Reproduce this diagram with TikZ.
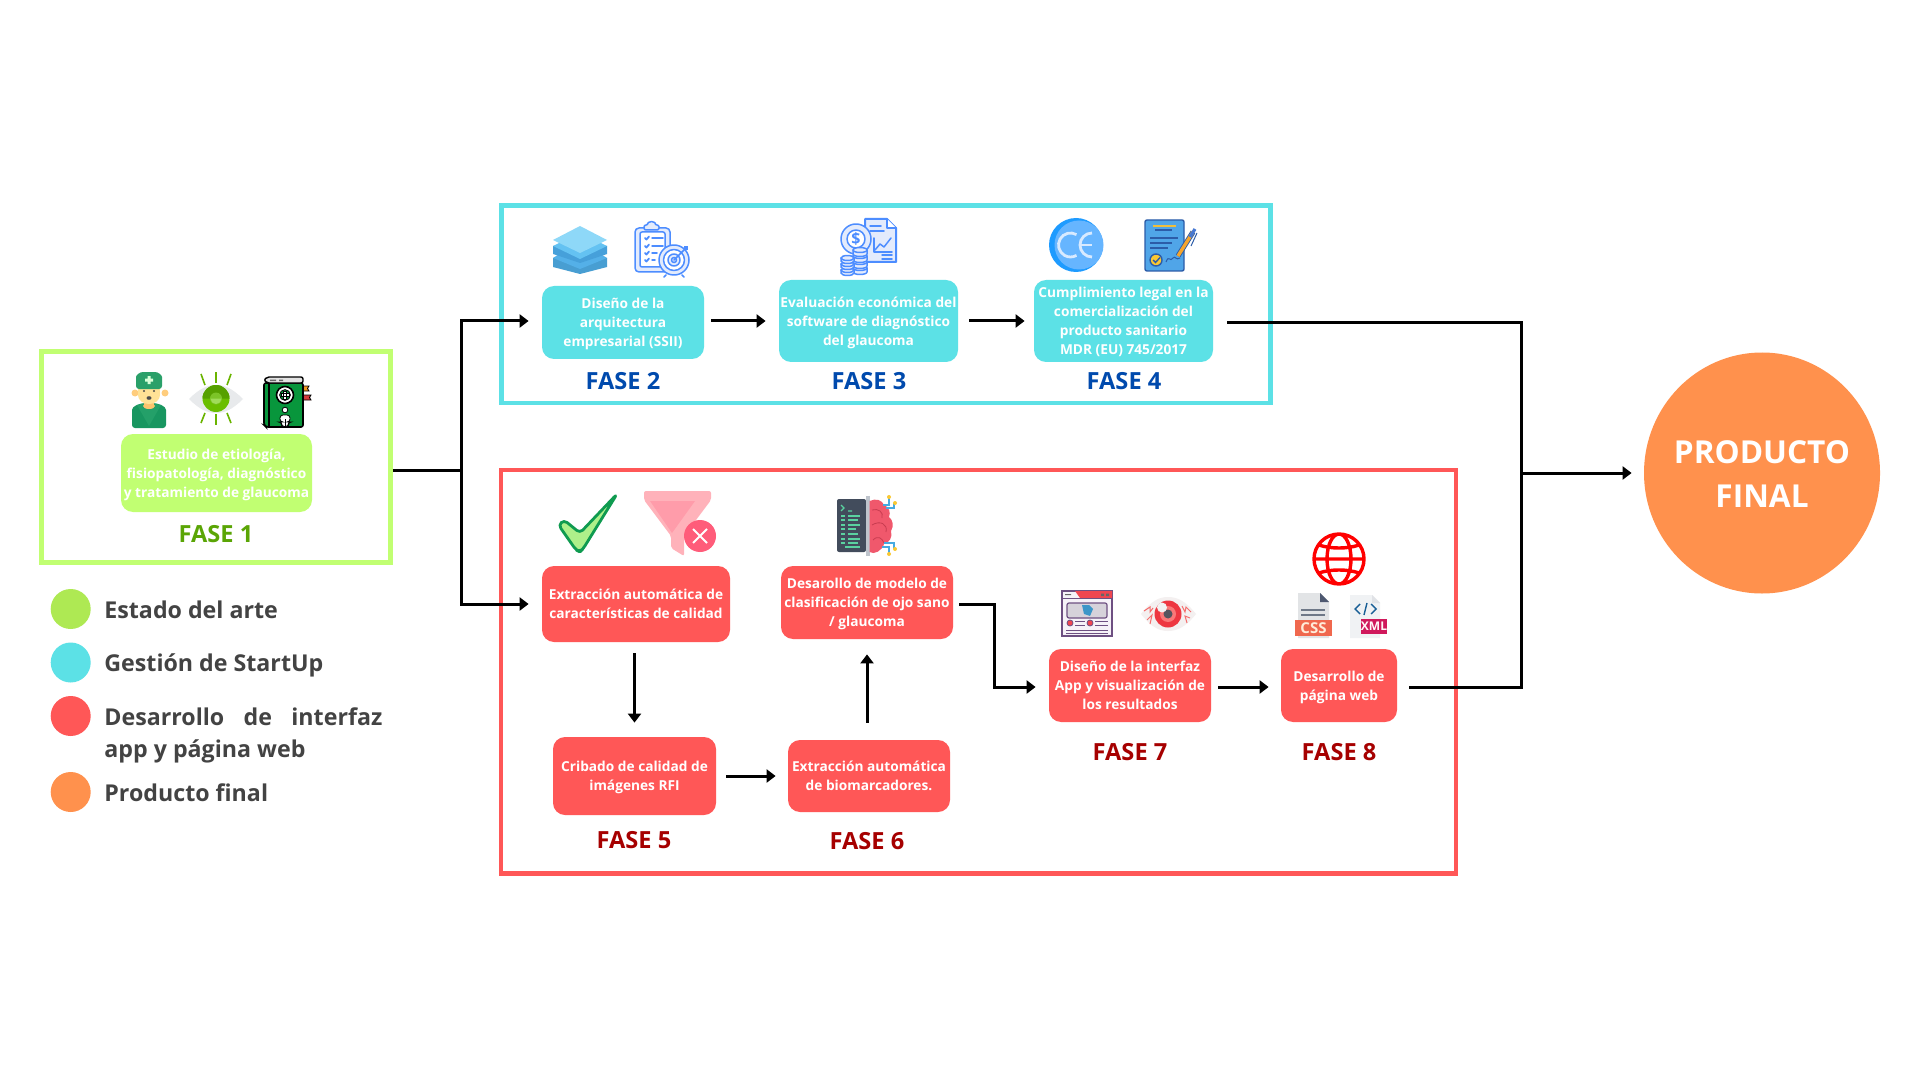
\documentclass[tikz,border=0pt]{standalone}
\usepackage{fontspec}
\setmainfont{Open Sans}
\usetikzlibrary{arrows.meta,shapes.geometric,calc}
\definecolor{cgreen}{HTML}{C1FF72}
\definecolor{ccyan}{HTML}{5CE1E6}
\definecolor{cred}{HTML}{FF5757}
\definecolor{corange}{HTML}{FF914D}
\definecolor{clegend}{HTML}{AEE953}
\definecolor{fgreen}{HTML}{5AA505}
\definecolor{fblue}{HTML}{004AAD}
\definecolor{fred}{HTML}{A60000}
\definecolor{legtext}{HTML}{434343}
\definecolor{iblue}{HTML}{4D8DFF}
\definecolor{ipale}{HTML}{E3EBFC}
\tikzset{
  box/.style={rectangle,rounded corners=6pt,inner sep=0pt,align=center,text=white,text depth=0pt,
    font=\fontsize{6.85}{9.5}\selectfont\bfseries},
  frame/.style={rectangle,draw,line width=2.25pt,inner sep=0pt,fill=none},
  fase/.style={inner sep=0pt,font=\fontsize{11.8}{14}\selectfont\bfseries},
  legtxt/.style={inner sep=0pt,anchor=west,text=legtext,font=\fontsize{11.6}{14}\selectfont\bfseries},
  dot/.style={circle,minimum size=20pt,inner sep=0pt},
  conn/.style={line width=1.5pt,draw=black},
  arr/.style={conn,-{Triangle[length=4.5pt,width=6.5pt]}},
  iconline/.style={line width=.75pt,draw=iblue,line cap=round,line join=round},
}
\begin{document}
\begin{tikzpicture}[x=.5pt,y=-.5pt]
\useasboundingbox (0,0) rectangle (1920,1080);
\fill[white] (0,0) rectangle (1920,1080);

% frames
\node[frame,draw=cgreen,minimum width=174.5pt,minimum height=105.5pt] (fr1) at (216,457) {};
\node[frame,draw=ccyan,minimum width=384.5pt,minimum height=98.5pt] (fr2) at (885.75,304.25) {};
\node[frame,draw=cred,minimum width=477.5pt,minimum height=201.75pt] (fr3) at (978.5,671.75) {};

% boxes
\node[box,fill=cgreen,minimum width=95.5pt,minimum height=39pt] (b1) at (216.5,473) {Estudio de etiología,\\fisiopatología, diagnóstico\\y tratamiento de glaucoma};
\node[box,fill=ccyan,minimum width=81pt,minimum height=36.5pt] (b2) at (623,322.5) {Diseño de la\\arquitectura\\empresarial (SSII)};
\node[box,fill=ccyan,minimum width=89.5pt,minimum height=41pt] (b3) at (868.5,321) {Evaluación económica del\\software de diagnóstico\\del glaucoma};
\node[box,fill=ccyan,minimum width=89.5pt,minimum height=41pt] (b4) at (1123.5,321) {Cumplimiento legal en la\\comercialización del\\producto sanitario\\MDR (EU) 745/2017};
\node[box,fill=cred,minimum width=94pt,minimum height=38pt] (b5a) at (636,604) {Extracción automática de\\características de calidad};
\node[box,fill=cred,minimum width=81.5pt,minimum height=39pt] (b5b) at (634.5,776) {Cribado de calidad de\\imágenes RFI};
\node[box,fill=cred,minimum width=81pt,minimum height=36pt] (b6a) at (869,776) {Extracción automática\\de biomarcadores.};
\node[box,fill=cred,minimum width=86pt,minimum height=36.5pt] (b6b) at (867,602.5) {Desarollo de modelo de\\clasificación de ojo sano\\/ glaucoma};
\node[box,fill=cred,minimum width=81pt,minimum height=36.5pt] (b7) at (1130,685.5) {Diseño de la interfaz\\App y visualización de\\los resultados};
\node[box,fill=cred,minimum width=58pt,minimum height=36.5pt] (b8) at (1339,685.5) {Desarrollo de\\página web};

% FASE labels
\node[fase,text=fgreen] (f1) at (216,534) {FASE 1};
\node[fase,text=fblue] (f2) at (623,381) {FASE 2};
\node[fase,text=fblue] (f3) at (869,381) {FASE 3};
\node[fase,text=fblue] (f4) at (1124,381) {FASE 4};
\node[fase,text=fred] (f5) at (634,840.5) {FASE 5};
\node[fase,text=fred] (f6) at (867,841.5) {FASE 6};
\node[fase,text=fred] (f7) at (1130,752) {FASE 7};
\node[fase,text=fred] (f8) at (1339,752) {FASE 8};

% final
\node[ellipse,fill=corange,minimum width=118pt,minimum height=120.5pt,inner sep=0pt] (final) at (1762,473) {};
\node[inner sep=0pt,align=center,text=white,font=\fontsize{15.8}{22}\selectfont\bfseries] (finaltxt) at (1762,474) {PRODUCTO\\FINAL};

% legend
\node[dot,fill=clegend] (l1) at (70.7,609) {};
\node[dot,fill=ccyan] (l2) at (70.7,662.5) {};
\node[dot,fill=cred] (l3) at (70.7,716) {};
\node[dot,fill=corange] (l4) at (70.7,792) {};
\node[legtxt] (t1) at (104,610) {Estado del arte};
\node[legtxt] (t2) at (104,665) {Gestión de StartUp};
\node[legtxt] (t3) at (104,717) {\makebox[139pt][s]{Desarrollo de interfaz}};
\node[legtxt] (t3b) at (104,751) {app y página web};
\node[legtxt] (t4) at (104,793) {Producto final};

% connectors
\coordinate (j1) at (461.5,470);
\coordinate (j3) at (1521,323);
\coordinate (j4) at (1521,687);
\coordinate (j2) at (1521,473);
\coordinate (c67) at (994,604);
\draw[arr,shorten >=6.5pt] (fr1.east |- j1) -- (j1) |- ([yshift=.75pt]b2.west);
\draw[arr,shorten >=6.5pt] (fr1.east |- j1) -- (j1) |- (b5a.west);
\draw[arr,shorten <=3.5pt,shorten >=6.5pt] (b2.east |- b3.west) -- (b3.west);
\draw[arr,shorten <=5.5pt,shorten >=4.5pt] (b3.east) -- (b4.west);
\draw[conn,shorten <=7pt,shorten >=6pt] ([yshift=-1pt]b4.east) -- (j3) -- (j4) -- ([yshift=-.75pt]b8.east);
\draw[arr,shorten >=6pt] (j2) -- (final.west);
\draw[arr,shorten <=5.5pt,shorten >=7pt] (b5a.south -| b5b.north) -- (b5b.north);
\draw[arr,shorten <=5pt,shorten >=6pt] (b5b.east) -- (b6a.west);
\draw[arr,shorten <=8.5pt,shorten >=7.5pt] (b6a.north -| b6b.south) -- (b6b.south);
\draw[arr,shorten <=3pt,shorten >=6.5pt] ([yshift=-.75pt]b6b.east) -- (c67) |- ([yshift=-.75pt]b7.west);
\draw[arr,shorten <=3.5pt,shorten >=6pt] ([yshift=-.75pt]b7.east) -- ([yshift=-.75pt]b8.west);

% ---- doctor
\fill[fill={rgb,255:red,24;green,150;blue,96},rounded corners=1.5pt] (132,428) -- (132,413) .. controls (132,406) and (140,403) .. (149,403) .. controls (158,403) and (166,406) .. (166,413) -- (166,428) -- cycle;
\fill[fill={rgb,255:red,36;green,160;blue,105}] (137,405) -- (149,426) -- (161,405) .. controls (153,403) and (145,403) .. (137,405) -- cycle;
\fill[fill={rgb,255:red,252;green,196;blue,110}] (144,399) rectangle (154,405);
\fill[fill={rgb,255:red,252;green,196;blue,110}] (149,406) ellipse [x radius=6,y radius=3];
\fill[fill={rgb,255:red,255;green,205;blue,125}] (135,393) circle [radius=3.5] (165,393) circle [radius=3.5];
\fill[fill={rgb,255:red,255;green,226;blue,150}] (138,386) rectangle (160,394);
\fill[fill={rgb,255:red,255;green,226;blue,150}] (149,395) ellipse [x radius=11,y radius=9];
\fill[fill={rgb,255:red,42;green,160;blue,105},rounded corners=1.5pt] (136,389) -- (136,380) .. controls (136,375) and (140,372) .. (146,372) -- (152,372) .. controls (158,372) and (162,375) .. (162,380) -- (162,389) -- cycle;
\fill[white!85!green] (147.5,376) rectangle (150.5,384) (145,378.5) rectangle (153,381.5);
\fill[black!70] (144,391) circle [radius=1.1] (154,391) circle [radius=1.1] (149,398) ellipse [x radius=2.5,y radius=1.8];

% ---- eye
\fill[fill={rgb,255:red,232;green,234;blue,236}] (189,399) .. controls (200,388) and (208,385) .. (216,385) .. controls (224,385) and (232,388) .. (243,399) .. controls (232,410) and (224,413) .. (216,413) .. controls (208,413) and (200,410) .. (189,399) -- cycle;
\fill[fill={rgb,255:red,106;green,190;blue,0}] (216,398.5) circle [radius=13.5];
\fill[fill={rgb,255:red,86;green,160;blue,0}] (202.5,398.5) arc [start angle=180,delta angle=180,radius=13.5] -- cycle;
\fill[fill={rgb,255:red,124;green,196;blue,40}] (216,398.5) circle [radius=6];
\fill[fill={rgb,255:red,160;green,220;blue,90}] (210.5,398.5) arc [start angle=180,delta angle=-180,radius=5.5] -- cycle;
\foreach \a/\b/\c/\d in {216/372/216/383,216/414/216/425,201/374/205/385,231/374/227/385,201/423/205/413,231/423/227/413}
  \draw[line width=.8pt,draw={rgb,255:red,106;green,180;blue,0}] (\a,\b) -- (\c,\d);

% ---- book
\fill[fill={rgb,255:red,240;green,150;blue,30},draw=black,line width=.4pt] (303,386) -- (309,386) -- (307.5,388.5) -- (309,391) -- (303,391) -- cycle;
\fill[fill={rgb,255:red,214;green,60;blue,60},draw=black,line width=.4pt] (303,395) -- (311,395) -- (309.5,397.5) -- (311,400) -- (303,400) -- cycle;
\filldraw[fill={rgb,255:red,8;green,150;blue,60},draw=black,line width=.8pt,rounded corners=1pt] (303,383) -- (264,383) -- (264,425) -- (266,427) -- (303,427) -- cycle;
\filldraw[fill={rgb,255:red,226;green,226;blue,226},draw=black,line width=.7pt,rounded corners=1pt] (303,377) -- (267,377) -- (264,380) -- (267,383) -- (303,383) -- cycle;
\fill[black!60] (270,379.5) rectangle (276,381) (279,379.5) rectangle (283,381);
\draw[line width=.6pt] (269,383) -- (269,427);
\filldraw[fill=white,draw=black,line width=.8pt] (285,395) circle [radius=8.5];
\filldraw[fill={rgb,255:red,8;green,150;blue,60},draw=black,line width=.4pt] (285,395) circle [radius=5.4];
\filldraw[fill=white,draw=black,line width=.25pt] (283.6,391) rectangle (286.4,399) (281,393.6) rectangle (289,396.4);
\filldraw[fill=white,draw=black,line width=.4pt] (285,410) circle [radius=2.8];
\filldraw[fill=white,draw=black,line width=.4pt,rounded corners=1.5pt] (280,422) -- (280,415) -- (290,415) -- (290,422) -- (288.5,422) -- (288.5,426.5) -- (281.5,426.5) -- (281.5,422) -- cycle;
\draw[line width=.4pt] (285,419) -- (285,426.5);

% ---- layers
\fill[fill={rgb,255:red,72;green,158;blue,210}] (553,258) -- (553,267) -- (580,274) -- (607,267) -- (607,258) -- cycle;
\fill[fill={rgb,255:red,84;green,176;blue,232}] (580,241) -- (607,258) -- (580,269) -- (553,258) -- cycle;
\fill[fill={rgb,255:red,70;green,160;blue,218}] (553,246) -- (553,254) -- (580,263) -- (607,254) -- (607,246) -- cycle;
\fill[fill={rgb,255:red,100;green,194;blue,242}] (580,233) -- (607,246) -- (580,259) -- (553,246) -- cycle;
\fill[fill={rgb,255:red,142;green,216;blue,248}] (580,226) -- (607,240) -- (580,253) -- (553,240) -- cycle;

% ---- clipboard + target
\filldraw[iconline,fill=ipale,rounded corners=2pt] (635,228) rectangle (670,272);
\filldraw[iconline,fill=white,rounded corners=1pt] (640,232) rectangle (665,267);
\filldraw[iconline,fill=ipale,rounded corners=1pt] (644,230) -- (644,225) -- (648,225) arc [start angle=180,delta angle=180,radius=3.5] -- (659,225) -- (659,230) -- cycle;
\foreach \yy/\xe in {238/663,246/663,253/657,260/655}{
  \draw[iconline,line width=.9pt] (645,\yy) -- (646.5,\yy+1.5) -- (649,\yy-1.5);
  \draw[iconline] (652,\yy) -- (\xe,\yy);
}
\filldraw[iconline,fill=ipale] (674,260) circle [radius=15];
\filldraw[iconline,fill=white] (674,260) circle [radius=10.5];
\filldraw[iconline,fill=ipale] (674,260) circle [radius=6];
\draw[iconline] (674,260) circle [radius=2.5];
\draw[iconline] (674,260) -- (686,248);
\fill[iblue] (684,246) rectangle (688,250);
\draw[iconline] (666,275) -- (664,277) (682,275) -- (684,277);

% ---- money document
\filldraw[iconline,fill=ipale,line width=1pt] (865,219) -- (887,219) -- (896,228) -- (896,262) -- (865,262) -- cycle;
\draw[iconline,fill=white] (887,219) -- (887,228) -- (896,228);
\draw[iconline] (870,226) -- (881,226) (870,231) -- (884,231);
\draw[iconline] (874,238) -- (874,252) -- (892,252);
\draw[iconline] (875,250) -- (880,244) -- (884,247) -- (891,238);
\draw[iconline] (882,255) -- (892,255) (882,259) -- (892,259);
\filldraw[iconline,fill=ipale] (856,239) circle [radius=15];
\filldraw[iconline,fill=white] (856,239) circle [radius=9];
\node[inner sep=0pt,text=iblue,font=\fontsize{8}{8}\selectfont\bfseries] (dollar) at (856,239) {\$};
\foreach \yy in {268,262,256,250}{
  \filldraw[iconline,fill=ipale] (853,\yy) -- (853,\yy+4) arc [start angle=180,delta angle=-180,x radius=7,y radius=2.5] -- (867,\yy) -- cycle;
  \filldraw[iconline,fill=ipale] (860,\yy) ellipse [x radius=7,y radius=2.5];
}
\foreach \yy in {270,264,258}{
  \filldraw[iconline,fill=ipale] (841,\yy) -- (841,\yy+3) arc [start angle=180,delta angle=-180,x radius=6.5,y radius=2.5] -- (854,\yy) -- cycle;
  \filldraw[iconline,fill=ipale] (847.5,\yy) ellipse [x radius=6.5,y radius=2.5];
}

% ---- CE
\fill[fill={rgb,255:red,30;green,155;blue,255}] (1076,245) circle [radius=27];
\fill[fill={rgb,255:red,102;green,181;blue,255}] (1079,245) circle [radius=24.5];
\draw[line width=1.4pt,draw={rgb,255:red,216;green,234;blue,255}] (1076.5,234.6) arc [start angle=-60,delta angle=-240,radius=12];
\draw[line width=1.4pt,draw={rgb,255:red,216;green,234;blue,255}] (1092,233) arc [start angle=-90,delta angle=-180,radius=12];
\draw[line width=1.4pt,draw={rgb,255:red,216;green,234;blue,255}] (1080,245) -- (1092,245);

% ---- contract
\filldraw[fill={rgb,255:red,80;green,165;blue,232},draw={rgb,255:red,44;green,92;blue,168},line width=.7pt,rounded corners=1pt] (1145,220) rectangle (1184,271);
\draw[line width=.9pt,draw={rgb,255:red,240;green,190;blue,60}] (1153,226) -- (1176,226);
\draw[line width=.7pt,draw={rgb,255:red,44;green,92;blue,168}] (1155,230) -- (1172,230) (1150,238) -- (1178,238) (1150,243) -- (1172,243) (1150,248) -- (1168,248);
\filldraw[fill={rgb,255:red,250;green,200;blue,50},draw={rgb,255:red,44;green,92;blue,168},line width=.7pt] (1156,260) circle [radius=6];
\draw[line width=.7pt,draw={rgb,255:red,44;green,92;blue,168}] (1153,260) -- (1155.5,262.5) -- (1160,257.5);
\draw[line width=.5pt,draw={rgb,255:red,44;green,92;blue,168}] (1166,262) .. controls (1169,254) and (1170,263) .. (1173,258) .. controls (1175,255) and (1176,261) .. (1180,258);
\draw[line width=2.6pt,draw={rgb,255:red,44;green,92;blue,168}] (1178,256) -- (1193,232);
\draw[line width=1.7pt,draw={rgb,255:red,245;green,165;blue,45}] (1178,256) -- (1193,232);
\draw[line width=1.6pt,draw={rgb,255:red,70;green,120;blue,210}] (1190,237) -- (1195,229);
\draw[line width=.5pt,draw={rgb,255:red,44;green,92;blue,168}] (1197,233) -- (1191,246);

% ---- check mark
\filldraw[fill={rgb,255:red,174;green,240;blue,138},draw={rgb,255:red,15;green,155;blue,80},line width=1.4pt,line join=round,rounded corners=2pt] (558.5,525) -- (564,520) -- (580,533) -- (617,494) -- (583,549) -- (580,552) -- (576,550) -- cycle;

% ---- funnel
\fill[fill={rgb,255:red,255;green,178;blue,186},rounded corners=1pt] (644,491) -- (711,491) -- (711,500) -- (684,536) -- (684,556) -- (671,548) -- (671,536) -- (644,500) -- cycle;
\fill[fill={rgb,255:red,255;green,156;blue,170}] (650,501) -- (695,501) -- (672,533) -- cycle;
\fill[fill={rgb,255:red,255;green,92;blue,122}] (700,536) circle [radius=16];
\draw[white,line width=1pt] (693,529) -- (707,543) (707,529) -- (693,543);

% ---- code + brain
\fill[fill={rgb,255:red,66;green,76;blue,92},rounded corners=1pt] (837,499) rectangle (866,552);
\draw[line width=.6pt,draw={rgb,255:red,90;green,210;blue,160}] (841,505) -- (844,508) -- (841,511) (848,511) -- (852,511);
\foreach \yy/\xa/\xb in {516/848/860,520/848/858,525/848/860,529/848/856,534/848/858,539/848/860,543/848/858,547/845/860}
  \draw[line width=.7pt,draw={rgb,255:red,90;green,210;blue,160}] (\xa,\yy) -- (\xb,\yy);
\foreach \yy in {516,520,525,529,534,539,543}
  \draw[line width=.7pt,draw={rgb,255:red,90;green,210;blue,160}] (841,\yy) -- (845,\yy);
\fill[fill={rgb,255:red,190;green,196;blue,204}] (866,496) rectangle (869.5,556);
\fill[fill={rgb,255:red,240;green,88;blue,108}] (869.5,501) .. controls (876,498) and (882,500) .. (884,505) .. controls (889,507) and (891,512) .. (889,517) .. controls (893,520) and (894,526) .. (891,531) .. controls (893,537) and (889,543) .. (884,544) .. controls (882,551) and (874,555) .. (869.5,552) -- cycle;
\draw[line width=.4pt,draw={rgb,255:red,200;green,60;blue,80}] (872,510) .. controls (878,508) and (884,512) .. (882,518) (872,525) .. controls (880,520) and (888,524) .. (886,532) (873,540) .. controls (878,535) and (882,538) .. (884,543);
\draw[line width=.7pt,draw={rgb,255:red,70;green,170;blue,225}] (883,505) -- (889,505) -- (889,498) (886,508) -- (894,508) -- (894,503) (884,543) -- (894,543) -- (894,549) (882,547) -- (889,547) -- (889,553);
\fill[fill={rgb,255:red,250;green,200;blue,50}] (889,497) circle [radius=2] (895,503) circle [radius=2] (895,549) circle [radius=2] (889,554) circle [radius=2];

% ---- window icon
\filldraw[fill={rgb,255:red,246;green,242;blue,248},draw={rgb,255:red,110;green,80;blue,130},line width=.6pt] (1062,591) rectangle (1112,636);
\fill[fill={rgb,255:red,240;green,70;blue,80}] (1075,591) -- (1112,591) -- (1112,598) -- (1080,598) -- cycle;
\draw[line width=.5pt,draw={rgb,255:red,110;green,80;blue,130}] (1062,598) -- (1112,598);
\fill[black!60] (1065,594) rectangle (1071,595) (1101,593.5) rectangle (1104,596) (1106,593.5) rectangle (1109,596);
\filldraw[fill={rgb,255:red,214;green,210;blue,218},draw={rgb,255:red,110;green,80;blue,130},line width=.6pt,rounded corners=1pt] (1067,603) rectangle (1107,618);
\fill[fill={rgb,255:red,60;green,150;blue,200}] (1082,605) -- (1089,605) -- (1093,609) -- (1090,616) -- (1084,614) -- cycle;
\filldraw[fill={rgb,255:red,240;green,70;blue,80},draw={rgb,255:red,110;green,80;blue,130},line width=.4pt] (1070,623) circle [radius=3] (1090,623) circle [radius=3];
\draw[line width=.5pt,draw={rgb,255:red,110;green,80;blue,130}] (1075,621) -- (1085,621) (1075,625) -- (1085,625) (1095,621) -- (1108,621) (1095,625) -- (1108,625) (1066,630) -- (1108,630) (1066,633) -- (1108,633);

% ---- red eye
\fill[fill={rgb,255:red,244;green,240;blue,240}] (1141,614) .. controls (1152,600) and (1160,597) .. (1168,597) .. controls (1176,597) and (1185,600) .. (1196,614) .. controls (1185,628) and (1176,631) .. (1168,631) .. controls (1160,631) and (1152,628) .. (1141,614) -- cycle;
\draw[line width=.5pt,draw={rgb,255:red,245;green,110;blue,110}] (1144,611) -- (1150,607) -- (1150,612) -- (1153,608) (1147,620) -- (1152,615) -- (1150,624) (1191,612) -- (1186,607) -- (1185,612) -- (1182,606) (1190,618) -- (1185,616) -- (1187,623);
\fill[fill={rgb,255:red,238;green,55;blue,65}] (1168,614) circle [radius=13.5];
\fill[fill={rgb,255:red,250;green,120;blue,120}] (1168,614) circle [radius=8];
\fill[fill={rgb,255:red,85;green,85;blue,95}] (1168,614) circle [radius=4.5];
\fill[white!90!gray] (1162,607.5) circle [radius=5];

% ---- globe
\draw[line width=1.7pt,draw={rgb,255:red,255;green,0;blue,0}] (1339,559) circle [radius=25] (1339,559) ellipse [x radius=12,y radius=25] (1314,559) -- (1364,559) (1319,545) .. controls (1330,549) and (1348,549) .. (1359,545) (1319,573) .. controls (1330,569) and (1348,569) .. (1359,573);

% ---- CSS
\fill[fill={rgb,255:red,226;green,228;blue,230}] (1298,593) -- (1320,593) -- (1329,602) -- (1329,638) -- (1298,638) -- cycle;
\fill[fill={rgb,255:red,78;green,88;blue,112}] (1320,593) -- (1329,602) -- (1320,602) -- cycle;
\draw[line width=.8pt,draw={rgb,255:red,110;green,120;blue,135}] (1301,610) -- (1325,610) (1301,615) -- (1325,615);
\fill[fill={rgb,255:red,240;green,104;blue,78}] (1295,620) rectangle (1332,636);
\node[inner sep=0pt,text=white!85!orange,font=\fontsize{7.5}{8}\selectfont\bfseries] (css) at (1313.5,628) {CSS};

% ---- XML
\fill[fill={rgb,255:red,240;green,242;blue,244}] (1350,595) -- (1372,595) -- (1380,603) -- (1380,638) -- (1350,638) -- cycle;
\fill[fill={rgb,255:red,224;green,226;blue,230}] (1372,595) -- (1380,603) -- (1372,603) -- cycle;
\draw[line width=.7pt,draw={rgb,255:red,25;green,95;blue,150}] (1360,604) -- (1355,609) -- (1360,614) (1371,604) -- (1376,609) -- (1371,614);
\draw[line width=.7pt,draw={rgb,255:red,25;green,95;blue,150}] (1367,603) -- (1364,615);
\fill[fill={rgb,255:red,208;green,25;blue,92}] (1361,619) rectangle (1387,634);
\node[inner sep=0pt,text=white!90!pink,font=\fontsize{6}{7}\selectfont\bfseries] (xml) at (1374,626.5) {XML};
\end{tikzpicture}
\end{document}
